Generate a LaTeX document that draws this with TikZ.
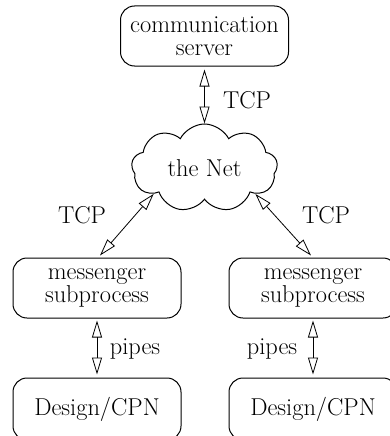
\documentclass[tikz,border=0pt]{standalone}
\usetikzlibrary{arrows.meta,shapes.symbols}
\begin{document}
\begin{tikzpicture}[x=1pt,y=1pt,
  every node/.style={font=\fontsize{24.4}{22.5}\selectfont},
  proc/.style={draw,line width=1pt,rounded corners=14pt,minimum width=168pt,minimum height=60pt,align=center,inner sep=0pt},
  dbl/.style={line width=0.8pt,{Triangle[open,length=17pt,width=10pt]}-{Triangle[open,length=17pt,width=10pt]}},
  lbl/.style={inner sep=0pt}]
\useasboundingbox (0,0) rectangle (390,-436);
\node[proc] (srv) at (204.5,-36) {communication\\server};
\node[draw,line width=1pt,cloud,cloud puffs=9,cloud puff arc=125,aspect=1.6,minimum width=146pt,minimum height=88pt,inner sep=0pt] (net) at (204.5,-168) {the Net};
\node[proc] (lm) at (97,-288) {messenger\\subprocess};
\node[proc] (rm) at (313,-288) {messenger\\subprocess};
\node[proc,minimum height=62pt] (ld) at (97,-409) {Design/CPN};
\node[proc,minimum height=62pt] (rd) at (313,-409) {Design/CPN};
\draw[dbl,shorten <=3pt] (srv.south) -- (net.north);
\draw[dbl] (net.207) -- ([xshift=3pt,yshift=2pt]lm.north);
\draw[dbl] (net.333) -- ([xshift=-2pt,yshift=2pt]rm.north);
\draw[dbl,shorten <=2pt,shorten >=3pt] (lm.south) -- (ld.north);
\draw[dbl,shorten <=2pt,shorten >=3pt] (rm.south) -- (rd.north);
\node[lbl] (t1) at (247,-100) {TCP};
\node[lbl] (t2) at (82,-215) {TCP};
\node[lbl] (t3) at (326,-215) {TCP};
\node[lbl] (p1) at (135,-349) {pipes};
\node[lbl] (p2) at (272,-349) {pipes};
\end{tikzpicture}
\end{document}
